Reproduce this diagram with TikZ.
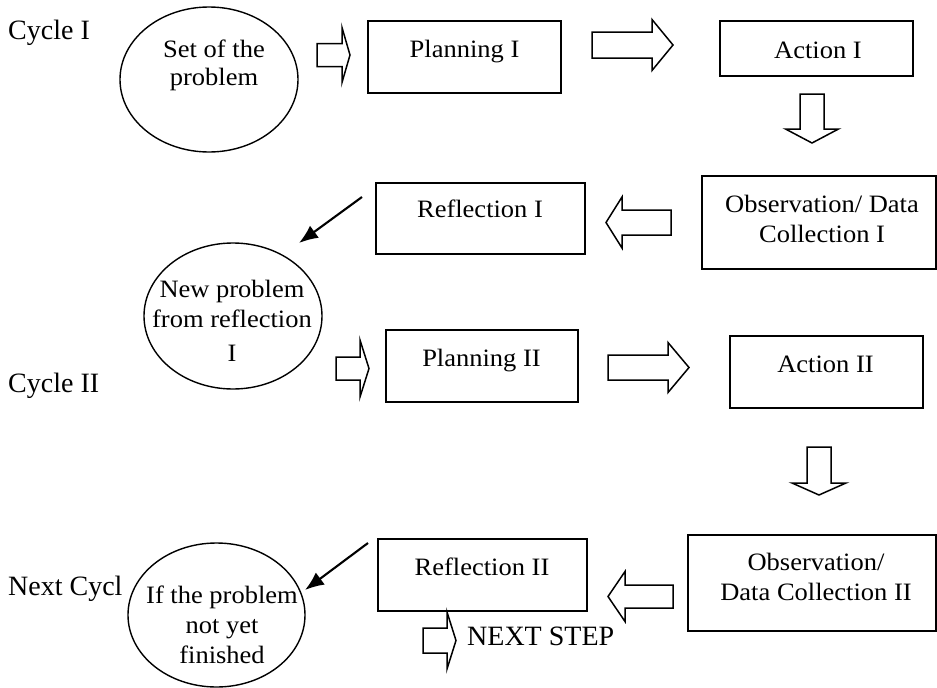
\documentclass[tikz,border=0pt]{standalone}
\usepackage{fontspec}
\setmainfont{Liberation Serif}
\newfontfamily\bxf[FakeStretch=1.06]{Liberation Serif}
\usetikzlibrary{shapes.geometric,arrows.meta}
\tikzset{
  boxnode/.style={draw, line width=1.7pt, rectangle, inner sep=0pt},
  ellnode/.style={draw, line width=1.4pt, ellipse, inner sep=0pt},
  txt/.style={inner sep=0pt, anchor=base, font=\bxf\fontsize{25}{30}\selectfont},
  side/.style={inner sep=0pt, anchor=base west, font=\fontsize{28}{32}\selectfont},
  barrow/.style={draw, line width=1.5pt, fill=white, line join=miter},
  thinarrow/.style={line width=2.1pt, -{Latex[length=19pt,width=15pt]}}
}
% horizontal block arrow: x start, head base x, tip x, center y, shaft half, head half
\newcommand\hblock[6]{\draw[barrow] ({#1},{#4-#5})--({#2},{#4-#5})--({#2},{#4-#6})--({#3},{#4})--({#2},{#4+#6})--({#2},{#4+#5})--({#1},{#4+#5})--cycle;}
% vertical block arrow: y start, head base y, tip y, center x, shaft half, head half
\newcommand\vblock[6]{\draw[barrow] ({#4-#5},{#1})--({#4-#5},{#2})--({#4-#6},{#2})--({#4},{#3})--({#4+#6},{#2})--({#4+#5},{#2})--({#4+#5},{#1})--cycle;}
\begin{document}
\begin{tikzpicture}[x=1pt,y=-1pt]
\useasboundingbox (0,0) rectangle (937,688);

% side labels
\node[side] (c1) at (8,39.5) {Cycle I};
\node[side] (c2) at (8,392) {Cycle II};
\node[side] (c3) at (8,595) {Next Cycl};

% ellipses
\node[ellnode, minimum width=178pt, minimum height=145pt] (e1) at (209,79.5) {};
\node[txt] (e1a) at (214,57.5) {Set of the};
\node[txt] (e1b) at (214,85) {problem};

\node[ellnode, minimum width=178pt, minimum height=146pt] (e2) at (233,316) {};
\node[txt] (e2a) at (232,297) {New problem};
\node[txt] (e2b) at (232,327) {from reflection};
\node[txt] (e2c) at (232,361) {I};

\node[ellnode, minimum width=177pt, minimum height=144pt] (e3) at (216.5,615) {};
\node[txt] (e3a) at (222,603) {If the problem};
\node[txt] (e3b) at (222,633) {not yet};
\node[txt] (e3c) at (222,663) {finished};

% boxes
\node[boxnode, minimum width=193pt, minimum height=72pt] (p1) at (464.5,57) {};
\node[txt] (p1t) at (464.5,57) {Planning I};
\node[boxnode, minimum width=193pt, minimum height=55pt] (a1) at (816.5,48.5) {};
\node[txt] (a1t) at (818,58) {Action I};
\node[boxnode, minimum width=234pt, minimum height=93pt] (o1) at (819,222.5) {};
\node[txt] (o1a) at (822,212) {Observation/ Data};
\node[txt] (o1b) at (822,242) {Collection I};
\node[boxnode, minimum width=209pt, minimum height=71pt] (r1) at (480.5,218.5) {};
\node[txt] (r1t) at (480,217) {Reflection I};

\node[boxnode, minimum width=192pt, minimum height=72pt] (p2) at (482,366) {};
\node[txt] (p2t) at (481.5,366) {Planning II};
\node[boxnode, minimum width=193pt, minimum height=72pt] (a2) at (826.5,372) {};
\node[txt] (a2t) at (825.5,372) {Action II};
\node[boxnode, minimum width=248pt, minimum height=96pt] (o2) at (812,583) {};
\node[txt] (o2a) at (816,570) {Observation/};
\node[txt] (o2b) at (816,600) {Data Collection II};
\node[boxnode, minimum width=209pt, minimum height=72pt] (r2) at (482.5,575) {};
\node[txt] (r2t) at (482,575) {Reflection II};

\node[side] (ns) at (467,645) {NEXT STEP};

% block arrows
\hblock{317}{342}{350}{55}{11.5}{27.5}
\hblock{592}{652}{673}{45}{13}{25.5}
\vblock{94}{129}{143}{812}{12}{26.5}
\hblock{671}{622}{606}{222.5}{12.5}{25.5}
\hblock{336}{360}{369}{368.5}{11.5}{28.5}
\hblock{608}{668}{689}{367.5}{12.5}{25}
\vblock{447}{483}{495}{819}{12}{27}
\hblock{673}{625}{608}{596.5}{11.5}{25}
\hblock{423}{447}{456}{640.5}{12.5}{28.5}

% thin arrows
\coordinate (t1s) at (362,197);
\coordinate (t1e) at (299,243);
\draw[thinarrow] (t1s) -- (t1e);
\coordinate (t2s) at (368,543);
\coordinate (t2e) at (305,590);
\draw[thinarrow] (t2s) -- (t2e);
\end{tikzpicture}
\end{document}
